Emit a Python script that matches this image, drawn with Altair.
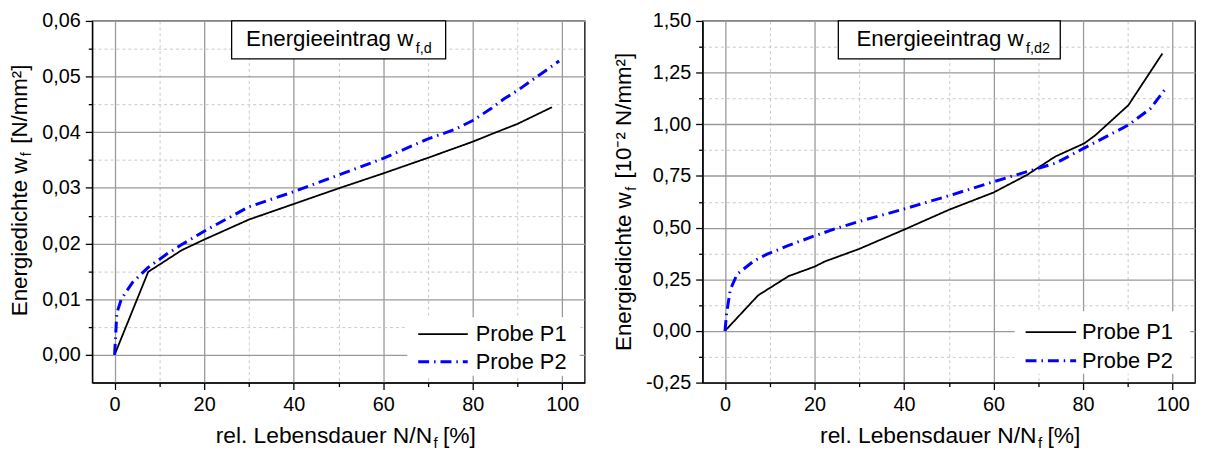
import altair as alt
import pandas as pd

# ---------------- data ----------------
series = ["Probe P1", "Probe P2"]

# left panel: Energieeintrag w_f,d  (N/mm²)
left_p1_x = [0, 7.5, 15, 20, 30, 40, 50, 60, 70, 80, 84, 90, 97.7]
left_p1_y = [0, 0.0149, 0.0188, 0.0207, 0.0243, 0.0271, 0.0299, 0.0326, 0.0354, 0.0383, 0.0396, 0.0415, 0.0445]
left_p2_x = [0, 0.5, 1.5, 4, 7.5, 12, 15, 20, 30, 40, 50, 60, 70, 76, 80, 84, 87, 90, 99.3]
left_p2_y = [0, 0.0075, 0.0100, 0.0130, 0.0157, 0.0183, 0.0198, 0.0222, 0.0266, 0.0293, 0.0323, 0.0353, 0.0388, 0.0405, 0.0421, 0.0442, 0.0460, 0.0475, 0.0528]

# right panel: Energieeintrag w_f,d2  (10^-2 N/mm²)
right_p1_x = [0, 7.4, 14.2, 20, 22.3, 30, 40, 50, 60, 67.4, 73.8, 80.3, 82.8, 90.1, 97.7]
right_p1_y = [0, 0.172, 0.265, 0.311, 0.336, 0.397, 0.49, 0.586, 0.67, 0.754, 0.844, 0.908, 0.948, 1.092, 1.342]
right_p2_x = [0, 0.4, 1.2, 2.7, 6.4, 9.3, 13.8, 20, 25, 30, 40, 50, 60, 70, 74, 80, 90, 95, 98.8]
right_p2_y = [0, 0.09, 0.20, 0.274, 0.338, 0.37, 0.41, 0.46, 0.497, 0.53, 0.59, 0.654, 0.722, 0.787, 0.813, 0.882, 0.995, 1.075, 1.183]

x_ticks = list(range(0, 101, 10))
left_y_ticks = [round(i * 0.005, 3) for i in range(0, 13)]
right_y_ticks = [round(-0.25 + i * 0.125, 3) for i in range(0, 15)]

left_title = ("Energieeintrag w", "f,d")
right_title = ("Energieeintrag w", "f,d2")
left_ytitle = ("Energiedichte w", "f", "[N/mm²]")
right_ytitle = ("Energiedichte w", "f", "[10⁻² N/mm²]")
xtitle = ("rel. Lebensdauer N/N", "f", "[%]")

# ---------------- style ----------------
FONT = "Liberation Sans"
colors = ["#000000", "#0000ff"]
dashes = [[1, 0], [11, 5, 1.5, 5]]
widths = [1.8, 3.0]
W, H = 497, 365


def long_df(x1, y1, x2, y2):
    rows = []
    for name, xs, ys in ((series[0], x1, y1), (series[1], x2, y2)):
        for i, (a, b) in enumerate(zip(xs, ys)):
            rows.append({"series": name, "x": a, "y": b, "i": i})
    return pd.DataFrame(rows)


def cond(test, major, minor):
    return {"condition": {"test": test, "value": major}, "value": minor}


def make_axis(values, test, label_expr, orient):
    return alt.Axis(
        values=values,
        title=None,
        grid=True,
        gridColor=cond(test, "#9a9a9a", "#c8c8c8"),
        gridDash=cond(test, [], [3, 3]),
        gridWidth=cond(test, 1.3, 1.0),
        tickSize=cond(test, 7, 4),
        tickColor="black",
        tickWidth=1.3,
        domainColor="black",
        domainWidth=1.3,
        labelExpr=label_expr,
        labelFont=FONT,
        labelFontSize=20,
        labelColor="black",
        labelPadding=5 if orient == "bottom" else 5,
        labelOverlap=False,
        labelFlush=False,
        orient=orient,
    )


def text_layer(txt, x, y, size, align="left", baseline="alphabetic", angle=0):
    return alt.Chart(pd.DataFrame({"t": [txt]})).mark_text(
        align=align, baseline=baseline, angle=angle, fontSize=size, font=FONT, color="black"
    ).encode(x=alt.value(x), y=alt.value(y), text="t:N")


def panel(df, ydom, yvals, ytest, title, ytitle, box, title_end, ytitle_geo, legend_geo, xt_geo):
    fmt = "replace(replace(format(datum.value, '.2f'), '.', ','), '\u2212', '-')"
    xtest = "datum.value % 20 === 0"
    xaxis = make_axis(x_ticks, xtest, f"{xtest} ? format(datum.value, 'd') : ''", "bottom")
    yaxis = make_axis(yvals, ytest, f"{ytest} ? {fmt} : ''", "left")

    lines = alt.Chart(df).mark_line(clip=True).encode(
        x=alt.X("x:Q", scale=alt.Scale(domain=[-5, 105], nice=False, zero=False), axis=xaxis),
        y=alt.Y("y:Q", scale=alt.Scale(domain=ydom, nice=False, zero=False), axis=yaxis),
        color=alt.Color("series:N", scale=alt.Scale(domain=series, range=colors), legend=None),
        strokeDash=alt.StrokeDash("series:N", scale=alt.Scale(domain=series, range=dashes), legend=None),
        strokeWidth=alt.StrokeWidth("series:N", scale=alt.Scale(domain=series, range=widths), legend=None),
        order="i:Q",
    )

    layers = [lines]

    # legend (white background, line samples, labels)
    lx0, lx1, ly0, ly1, sx0, sx1, tx, rows = legend_geo
    layers.append(
        alt.Chart(pd.DataFrame({"a": [0]})).mark_rect(fill="white", strokeWidth=0).encode(
            x=alt.value(lx0), x2=alt.value(lx1), y=alt.value(ly0), y2=alt.value(ly1)
        )
    )
    for k, name in enumerate(series):
        layers.append(
            alt.Chart(pd.DataFrame({"series": [name]})).mark_rule(
                color=colors[k], strokeDash=dashes[k], strokeWidth=widths[k]
            ).encode(x=alt.value(sx0), x2=alt.value(sx1), y=alt.value(rows[k]))
        )
        layers.append(text_layer(name, tx, rows[k], 22, baseline="middle"))

    # title box
    bx0, bx1, by1 = box
    layers.append(
        alt.Chart(pd.DataFrame({"a": [0]})).mark_rect(fill="white", stroke="black", strokeWidth=1.3).encode(
            x=alt.value(bx0), x2=alt.value(bx1), y=alt.value(0), y2=alt.value(by1)
        )
    )
    layers.append(text_layer(title[0], title_end, 25.5, 22.5, align="right"))
    layers.append(text_layer(title[1], title_end + 2.5, 32.5, 14.5))

    # y-axis title (rotated, with subscript)
    ybx, yend, ybr = ytitle_geo
    layers.append(text_layer(ytitle[0], ybx, yend, 22.5, align="right", angle=270))
    layers.append(text_layer(ytitle[1], ybx + 5, yend - 1.5, 14.5, angle=270))
    layers.append(text_layer(ytitle[2], ybx, ybr, 22.5, angle=270))

    # x-axis title (with subscript)
    xend, xbase = xt_geo
    layers.append(text_layer(xtitle[0], xend, xbase, 23, align="right"))
    layers.append(text_layer(xtitle[1], xend + 1.5, xbase + 5, 15))
    layers.append(text_layer(xtitle[2], xend + 11, xbase, 23))

    return alt.layer(*layers).properties(width=W, height=H)


left = panel(
    long_df(left_p1_x, left_p1_y, left_p2_x, left_p2_y),
    [-0.005, 0.06],
    left_y_ticks,
    "abs(datum.value*100 - round(datum.value*100)) < 0.001",
    left_title,
    left_ytitle,
    (140.7, 356.7, 38.3),
    324,
    (-66.3, 138, 124),
    (318, 492, 299, 358, 329, 379, 387, (316, 344)),
    (343, 426),
)

right = panel(
    long_df(right_p1_x, right_p1_y, right_p2_x, right_p2_y),
    [-0.25, 1.5],
    right_y_ticks,
    "abs(datum.value*4 - round(datum.value*4)) < 0.001",
    right_title,
    right_ytitle,
    (137, 361, 38.3),
    324,
    (-72, 173, 159),
    (315, 492, 293, 356, 326, 377, 383, (314, 343)),
    (337, 426),
)

chart = alt.hconcat(left, right, spacing=119, bounds="flush").properties(
    padding={"left": 0, "top": 0, "right": 2, "bottom": 0}
).configure_view(stroke="black", strokeWidth=1.3).configure_axis(labelFont=FONT)

chart.save("out.html", embed_options={"renderer": "svg", "actions": False})
